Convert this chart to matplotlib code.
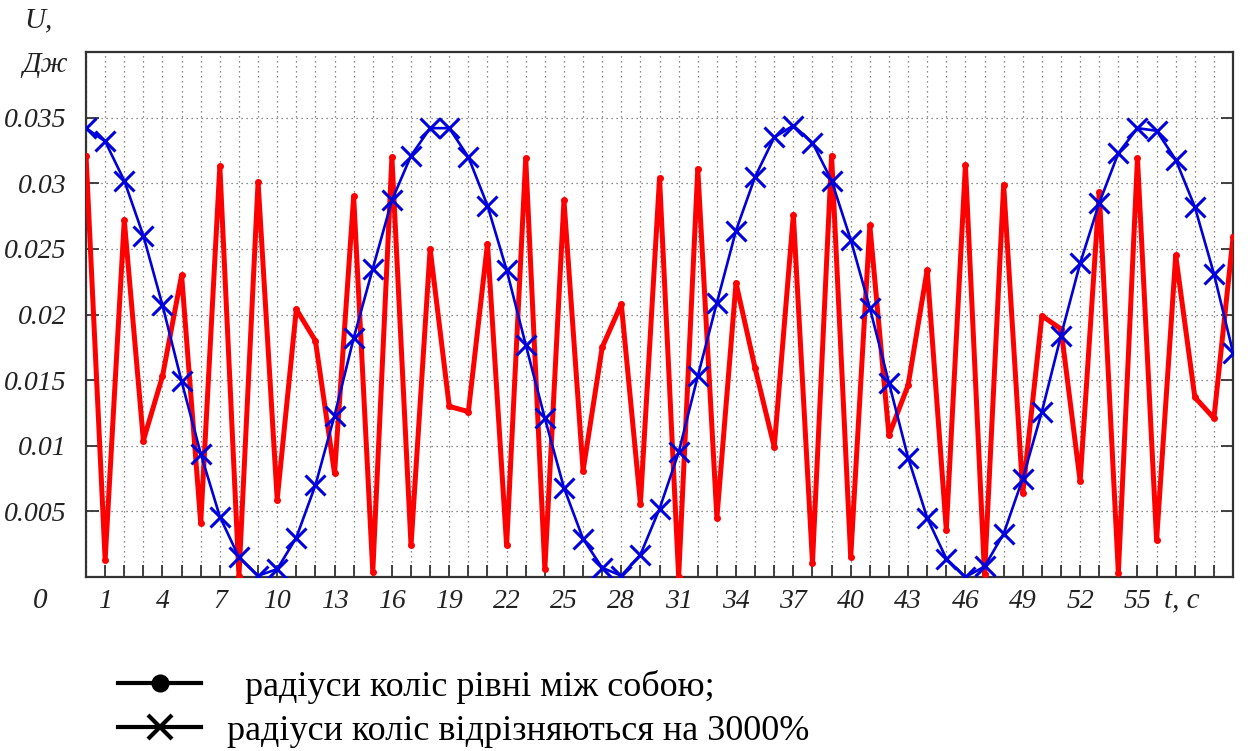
import matplotlib
matplotlib.use("Agg")
import matplotlib.pyplot as plt
from matplotlib.lines import Line2D
import numpy as np

# time, s
t = np.arange(0, 61)

# energy, J: equal wheel radii
u_equal = [0.0321, 0.0013, 0.0272, 0.0104, 0.0153, 0.0230, 0.0041, 0.0313, 0.0001, 0.0301,
           0.0059, 0.0204, 0.0180, 0.0079, 0.0290, 0.0004, 0.0320, 0.0024, 0.0250, 0.0130,
           0.0126, 0.0254, 0.0024, 0.0319, 0.0006, 0.0287, 0.0081, 0.0175, 0.0208, 0.0056,
           0.0304, 0.0000, 0.0311, 0.0045, 0.0224, 0.0159, 0.0099, 0.0276, 0.0011, 0.0321,
           0.0015, 0.0268, 0.0108, 0.0146, 0.0234, 0.0036, 0.0314, 0.0002, 0.0299, 0.0064,
           0.0199, 0.0189, 0.0073, 0.0293, 0.0003, 0.0319, 0.0028, 0.0245, 0.0137, 0.0121,
           0.0259]

# energy, J: wheel radii differ by 3000%
u_diff = [0.0342, 0.0332, 0.0302, 0.0260, 0.0207, 0.0149, 0.0094, 0.0046, 0.0015, 0.0001,
          0.0006, 0.0030, 0.0070, 0.0123, 0.0182, 0.0235, 0.0287, 0.0321, 0.0342, 0.0342,
          0.0320, 0.0283, 0.0234, 0.0177, 0.0121, 0.0068, 0.0029, 0.0007, 0.0001, 0.0017,
          0.0052, 0.0095, 0.0153, 0.0209, 0.0264, 0.0305, 0.0335, 0.0344, 0.0331, 0.0302,
          0.0257, 0.0205, 0.0148, 0.0091, 0.0045, 0.0014, 0.0000, 0.0008, 0.0033, 0.0075,
          0.0126, 0.0184, 0.0239, 0.0285, 0.0323, 0.0342, 0.0340, 0.0318, 0.0282, 0.0231,
          0.0171]

x_ticks = list(range(1, 56, 3))
y_ticks = [0.005, 0.01, 0.015, 0.02, 0.025, 0.03, 0.035]
y_labels = ['0.005', '0.01', '0.015', '0.02', '0.025', '0.03', '0.035']

serif = 'Liberation Serif'

fig = plt.figure(figsize=(12.54, 7.51), dpi=100)
ax = fig.add_axes([0.0686, 0.2317, 0.9147, 0.699])

ax.plot(t, u_equal, color='#ff0000', lw=3.6, marker='.', ms=8, zorder=3)
ax.plot(t, u_diff, color='#0000dd', lw=1.9, marker='x', ms=14, mew=2.2, zorder=4)

ax.set_xlim(0, 60)
ax.set_ylim(0, 0.04)

ax.set_xticks(np.arange(0, 61), minor=True)
ax.set_xticks(x_ticks)
ax.set_xticklabels([str(v) for v in x_ticks])
ax.set_yticks(y_ticks)
ax.set_yticklabels(y_labels)

ax.tick_params(axis='x', which='both', direction='in', length=9, width=1.3,
               color='#333333', pad=9)
ax.tick_params(axis='y', direction='in', length=9, width=1.3, color='#333333',
               right=True, pad=14)
for lab in ax.get_xticklabels() + ax.get_yticklabels():
    lab.set_fontfamily(serif)
    lab.set_fontstyle('italic')
    lab.set_fontsize(20)
    lab.set_color('#222222')

ax.grid(True, which='minor', axis='x', ls=(0, (1, 3)), color='#666666', lw=0.9)
ax.grid(True, which='major', axis='x', ls=(0, (1, 3)), color='#666666', lw=0.9)
ax.grid(True, which='major', axis='y', ls=(0, (1, 3)), color='#666666', lw=0.9)

for s in ax.spines.values():
    s.set_linewidth(1.6)
    s.set_color('#333333')

txt = dict(family=serif, style='italic', fontsize=21, color='#222222')
ax.text(-0.04, -0.045, '0', transform=ax.transAxes, ha='center', va='center', **txt)
ax.text(0.955, -0.045, 't, c', transform=ax.transAxes, ha='center', va='center', **txt)
fig.text(0.031, 0.973, 'U,', ha='center', va='center', **txt)
fig.text(0.036, 0.913, 'Дж', ha='center', va='center', **txt)

handles = [
    Line2D([], [], color='black', lw=3, marker='o', ms=12),
    Line2D([], [], color='black', lw=3, marker='x', ms=17, mew=3),
]
labels = ['  радіуси коліс рівні між собою;', 'радіуси коліс відрізняються на 3000%']
fig.legend(handles, labels, loc='upper left', bbox_to_anchor=(0.08, 0.132),
           frameon=False, handlelength=2.3, handletextpad=0.7, labelspacing=0.3,
           prop={'family': serif, 'size': 26}, borderpad=0)

fig.savefig('out.png', dpi=100)
